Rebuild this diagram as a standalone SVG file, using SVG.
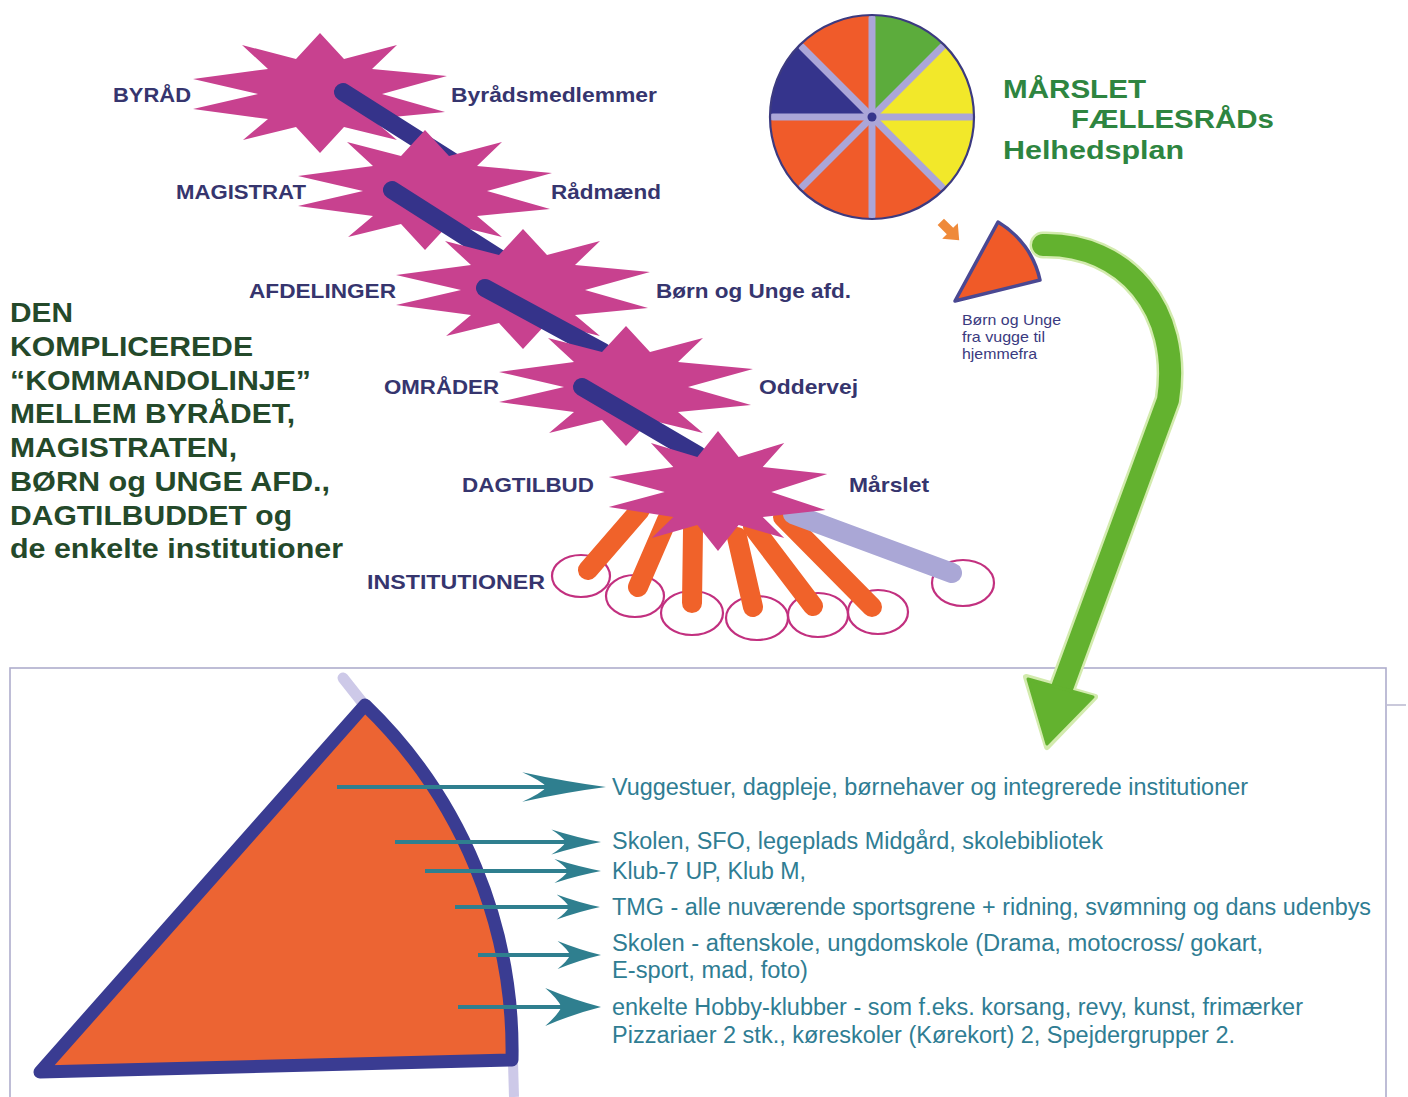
<svg xmlns="http://www.w3.org/2000/svg" xmlns:xlink="http://www.w3.org/1999/xlink" width="1408" height="1097" viewBox="0 0 1408 1097">
<defs>
<style>
.star{fill:#c8418f}
.bar{stroke:#35338a;stroke-width:18;stroke-linecap:round;fill:none}
.obar{stroke:#f0622a;stroke-width:20;stroke-linecap:round;fill:none}
.inst{fill:#fff;stroke:#c2307f;stroke-width:2.2}
.lbl{font-family:"Liberation Sans",Arial,sans-serif;font-weight:bold;font-size:21px;fill:#36356e}
.ttl{font-family:"Liberation Sans",Arial,sans-serif;font-weight:bold;font-size:28px;fill:#24492a}
.gttl{font-family:"Liberation Sans",Arial,sans-serif;font-weight:bold;font-size:25px;fill:#2e8540}
.small{font-family:"Liberation Sans",Arial,sans-serif;font-size:14.5px;fill:#3a3a80}
.item{font-family:"Liberation Sans",Arial,sans-serif;font-size:23px;fill:#2f7d93}
.tline{stroke:#2f7f8f;stroke-width:4;fill:none}
.thead{fill:#2f7f8f}
.div{stroke:#aba6d8;stroke-width:7;stroke-linecap:round}
</style>
<path id="star" d="M127,-17 L52,-24 L77,-48 L24,-34 L0,-60 L-24,-34 L-78,-48 L-52,-24 L-127,-14 L-62,1 L-127,16 L-52,26 L-77,47 L-24,34 L0,60 L24,34 L77,47 L52,26 L125,19 L62,1 Z"/>
<path id="ah" d="M0,0 Q-30,-5 -62,-14 Q-48,-6 -44,0 Q-48,6 -62,14 Q-30,5 0,0 Z"/>
</defs>
<rect width="1408" height="1097" fill="#ffffff"/>

<!-- bottom box -->
<g id="box">
<rect x="10" y="668" width="1376" height="460" fill="none" stroke="#aeadcc" stroke-width="1.6"/>
<line x1="1387" y1="705" x2="1406" y2="705" stroke="#b8b7cf" stroke-width="1.5"/>
</g>

<!-- institution circles -->
<g id="institutioner">
<ellipse class="inst" cx="581" cy="576" rx="29" ry="21"/>
<ellipse class="inst" cx="635" cy="596" rx="29" ry="21"/>
<ellipse class="inst" cx="692" cy="613" rx="31" ry="22"/>
<ellipse class="inst" cx="757" cy="618" rx="31" ry="22"/>
<ellipse class="inst" cx="818" cy="615" rx="30" ry="22"/>
<ellipse class="inst" cx="878" cy="612" rx="30" ry="22"/>
<ellipse class="inst" cx="963" cy="583" rx="31" ry="23"/>
<text class="lbl" x="367" y="589" textLength="178" lengthAdjust="spacingAndGlyphs">INSTITUTIONER</text>
</g>

<!-- star chain -->
<g id="byraad">
<use xlink:href="#star" class="star" transform="translate(320,93)"/>
<text class="lbl" x="113" y="102" textLength="78" lengthAdjust="spacingAndGlyphs">BYRÅD</text>
<text class="lbl" x="451" y="102" textLength="206" lengthAdjust="spacingAndGlyphs">Byrådsmedlemmer</text>
</g>
<g id="connector-1">
<line class="bar" x1="343" y1="92" x2="455" y2="163"/>
</g>
<g id="magistrat">
<use xlink:href="#star" class="star" transform="translate(425,190)"/>
<text class="lbl" x="176" y="199" textLength="130" lengthAdjust="spacingAndGlyphs">MAGISTRAT</text>
<text class="lbl" x="551" y="199" textLength="110" lengthAdjust="spacingAndGlyphs">Rådmænd</text>
</g>
<g id="connector-2">
<line class="bar" x1="392" y1="190" x2="502" y2="260"/>
</g>
<g id="afdelinger">
<use xlink:href="#star" class="star" transform="translate(523,289)"/>
<text class="lbl" x="249" y="298" textLength="147" lengthAdjust="spacingAndGlyphs">AFDELINGER</text>
<text class="lbl" x="656" y="298" textLength="195" lengthAdjust="spacingAndGlyphs">Børn og Unge afd.</text>
</g>
<g id="connector-3">
<line class="bar" x1="485" y1="288" x2="603" y2="352"/>
</g>
<g id="omraader">
<use xlink:href="#star" class="star" transform="translate(626,386)"/>
<text class="lbl" x="384" y="394" textLength="115" lengthAdjust="spacingAndGlyphs">OMRÅDER</text>
<text class="lbl" x="759" y="394" textLength="99" lengthAdjust="spacingAndGlyphs">Oddervej</text>
</g>
<g id="connectors">
<line class="bar" x1="582" y1="387" x2="698" y2="455"/>
<line class="obar" x1="640" y1="510" x2="588" y2="570"/>
<line class="obar" x1="667" y1="520" x2="638" y2="587"/>
<line class="obar" x1="693" y1="530" x2="692" y2="603"/>
<line class="obar" x1="737" y1="537" x2="753" y2="607"/>
<line class="obar" x1="753" y1="527" x2="813" y2="606"/>
<line class="obar" x1="783" y1="517" x2="872" y2="607"/>
<line x1="793" y1="514" x2="952" y2="573" stroke="#aaa7d6" stroke-width="20" stroke-linecap="round"/>
</g>
<g id="dagtilbud">
<use xlink:href="#star" class="star" transform="translate(718,491) scale(0.86,1)"/>
<text class="lbl" x="462" y="492" textLength="132" lengthAdjust="spacingAndGlyphs">DAGTILBUD</text>
<text class="lbl" x="849" y="492" textLength="80" lengthAdjust="spacingAndGlyphs">Mårslet</text>
</g>

<!-- left title -->
<g id="title-left">
<text class="ttl" x="10" y="322" textLength="63" lengthAdjust="spacingAndGlyphs">DEN</text>
<text class="ttl" x="10" y="356" textLength="243" lengthAdjust="spacingAndGlyphs">KOMPLICEREDE</text>
<text class="ttl" x="10" y="390" textLength="301" lengthAdjust="spacingAndGlyphs">“KOMMANDOLINJE”</text>
<text class="ttl" x="10" y="423" textLength="285" lengthAdjust="spacingAndGlyphs">MELLEM BYRÅDET,</text>
<text class="ttl" x="10" y="457" textLength="227" lengthAdjust="spacingAndGlyphs">MAGISTRATEN,</text>
<text class="ttl" x="10" y="491" textLength="320" lengthAdjust="spacingAndGlyphs">BØRN og UNGE AFD.,</text>
<text class="ttl" x="10" y="525" textLength="282" lengthAdjust="spacingAndGlyphs">DAGTILBUDDET og</text>
<text class="ttl" x="10" y="558" textLength="333" lengthAdjust="spacingAndGlyphs">de enkelte institutioner</text>
</g>

<!-- pie chart -->
<g id="helhedsplan-pie">
<path d="M872,117 L872,15 A102,102 0 0 1 944.1,44.9 Z" fill="#5cac3c"/>
<path d="M872,117 L944.1,44.9 A102,102 0 0 1 944.1,189.1 Z" fill="#f2e82a"/>
<path d="M872,117 L944.1,189.1 A102,102 0 0 1 770,117 Z" fill="#f05b2a"/>
<path d="M872,117 L770,117 A102,102 0 0 1 799.9,44.9 Z" fill="#35348c"/>
<path d="M872,117 L799.9,44.9 A102,102 0 0 1 872,15 Z" fill="#f05b2a"/>
<line class="div" x1="872" y1="117" x2="872" y2="18"/>
<line class="div" x1="872" y1="117" x2="942" y2="47"/>
<line class="div" x1="872" y1="117" x2="971" y2="117"/>
<line class="div" x1="872" y1="117" x2="942" y2="187"/>
<line class="div" x1="872" y1="117" x2="872" y2="216"/>
<line class="div" x1="872" y1="117" x2="802" y2="187"/>
<line class="div" x1="872" y1="117" x2="773" y2="117"/>
<line class="div" x1="872" y1="117" x2="802" y2="47"/>
<circle cx="872" cy="117" r="102" fill="none" stroke="#3c3a80" stroke-width="2.2"/>
<circle cx="872" cy="117" r="4.5" fill="#35348c"/>
</g>

<g id="title-right">
<text class="gttl" x="1003" y="98" textLength="143" lengthAdjust="spacingAndGlyphs">MÅRSLET</text>
<text class="gttl" x="1071" y="128" textLength="203" lengthAdjust="spacingAndGlyphs">FÆLLESRÅDs</text>
<text class="gttl" x="1003" y="159" textLength="181" lengthAdjust="spacingAndGlyphs">Helhedsplan</text>
</g>

<!-- small wedge -->
<g id="boern-unge-wedge">
<polygon points="-13,-4.5 0,-4.5 0,-11 13,0 0,11 0,4.5 -13,4.5" fill="#ef8a3a" transform="translate(950,231) rotate(45)"/>
<path d="M955,301 L998,222 A89,89 0 0 1 1040,280 Z" fill="#f05a28" stroke="#4a4892" stroke-width="3.5" stroke-linejoin="round"/>
<text class="small" x="962" y="325" textLength="99" lengthAdjust="spacingAndGlyphs">Børn og Unge</text>
<text class="small" x="962" y="342" textLength="83" lengthAdjust="spacingAndGlyphs">fra vugge til</text>
<text class="small" x="962" y="359" textLength="75" lengthAdjust="spacingAndGlyphs">hjemmefra</text>
</g>

<!-- green arrow -->
<g id="green-arrow">
<path d="M1043,245 C1125,243 1182,310 1168,400 L1062,688" fill="none" stroke="#d3ebae" stroke-width="27" stroke-linecap="round" stroke-linejoin="round"/>
<polygon points="1026,677 1095,697 1047,747" fill="#d3ebae" stroke="#d3ebae" stroke-width="6" stroke-linejoin="round"/>
<path d="M1043,245 C1125,243 1182,310 1168,400 L1062,688" fill="none" stroke="#63b22f" stroke-width="22" stroke-linecap="round" stroke-linejoin="round"/>
<polygon points="1028,679 1093,697 1047,744" fill="#63b22f" stroke="#63b22f" stroke-width="3" stroke-linejoin="round"/>
</g>

<!-- big wedge -->
<g id="wedge-detail">
<line x1="343" y1="678" x2="362" y2="702" stroke="#cdc9e8" stroke-width="11" stroke-linecap="round"/>
<line x1="513" y1="1062" x2="514" y2="1097" stroke="#cdc9e8" stroke-width="10"/>
<path d="M40,1072 L365,705 A480,480 0 0 1 512,1060 Z" fill="#ec6433" stroke="#3a3c92" stroke-width="13" stroke-linejoin="round"/>
</g>

<!-- teal arrows -->
<g id="item-arrows">
<line class="tline" x1="337" y1="787" x2="570" y2="787"/>
<use xlink:href="#ah" class="thead" transform="translate(606,787) scale(1.35,1.05)"/>
<line class="tline" x1="395" y1="842" x2="580" y2="842"/>
<use xlink:href="#ah" class="thead" transform="translate(601,842) scale(0.8,0.9)"/>
<line class="tline" x1="425" y1="871" x2="580" y2="871"/>
<use xlink:href="#ah" class="thead" transform="translate(601,871) scale(0.75,0.85)"/>
<line class="tline" x1="455" y1="907" x2="580" y2="907"/>
<use xlink:href="#ah" class="thead" transform="translate(600,907) scale(0.7,0.9)"/>
<line class="tline" x1="478" y1="955" x2="580" y2="955"/>
<use xlink:href="#ah" class="thead" transform="translate(601,955) scale(0.7,1.0)"/>
<line class="tline" x1="458" y1="1007" x2="580" y2="1007"/>
<use xlink:href="#ah" class="thead" transform="translate(601,1007) scale(0.9,1.35)"/>
</g>

<g id="items">
<text class="item" x="612" y="795" textLength="636" lengthAdjust="spacingAndGlyphs">Vuggestuer, dagpleje, børnehaver og integrerede institutioner</text>
<text class="item" x="612" y="849" textLength="491" lengthAdjust="spacingAndGlyphs">Skolen, SFO, legeplads Midgård, skolebibliotek</text>
<text class="item" x="612" y="879" textLength="194" lengthAdjust="spacingAndGlyphs">Klub-7 UP, Klub M,</text>
<text class="item" x="612" y="915" textLength="759" lengthAdjust="spacingAndGlyphs">TMG - alle nuværende sportsgrene + ridning, svømning og dans udenbys</text>
<text class="item" x="612" y="951" textLength="651" lengthAdjust="spacingAndGlyphs">Skolen - aftenskole, ungdomskole (Drama, motocross/ gokart,</text>
<text class="item" x="612" y="978" textLength="196" lengthAdjust="spacingAndGlyphs">E-sport, mad, foto)</text>
<text class="item" x="612" y="1015" textLength="691" lengthAdjust="spacingAndGlyphs">enkelte Hobby-klubber - som f.eks. korsang, revy, kunst, frimærker</text>
<text class="item" x="612" y="1043" textLength="623" lengthAdjust="spacingAndGlyphs">Pizzariaer 2 stk., køreskoler (Kørekort) 2, Spejdergrupper 2.</text>
</g>
</svg>
